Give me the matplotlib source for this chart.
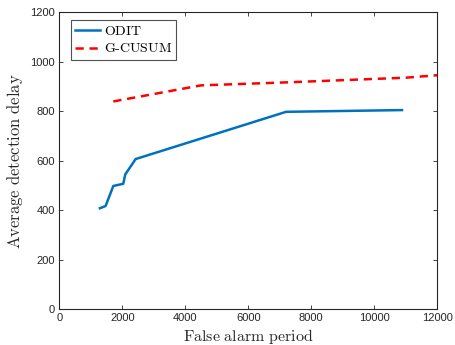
import matplotlib
matplotlib.use("Agg")
import matplotlib.pyplot as plt

odit_x = [1290, 1470, 1715, 2030, 2095, 2425, 7200, 10880]
odit_y = [408, 417, 498, 507, 545, 607, 798, 805]
gcusum_x = [1715, 4500, 7200, 11000, 12000]
gcusum_y = [840, 905, 917, 936, 946]
xticks = [0, 2000, 4000, 6000, 8000, 10000, 12000]
yticks = [0, 200, 400, 600, 800, 1000, 1200]

plt.rcParams['mathtext.fontset'] = 'cm'
plt.rcParams['font.family'] = ['Liberation Sans', 'DejaVu Sans']

fig = plt.figure(figsize=(4.56, 3.45), dpi=100)
ax = fig.add_axes([0.130, 0.104, 0.829, 0.860])
ax.plot(odit_x, odit_y, color='#0072BD', lw=1.8, label=r'$\mathrm{ODIT}$')
ax.plot(gcusum_x, gcusum_y, color='#FF0000', lw=1.8, ls=(0, (3.3, 2.3)), label=r'$\mathrm{G\text{-}CUSUM}$')
ax.set_xlim(0, 12000)
ax.set_ylim(0, 1200)
ax.set_xticks(xticks)
ax.set_yticks(yticks)
ax.tick_params(direction='in', length=3, width=0.6, colors='#262626', labelsize=8, top=True, right=True, pad=3)
for s in ax.spines.values():
    s.set_linewidth(0.8)
    s.set_color('#262626')
ax.set_xlabel(r'$\mathrm{False\ alarm\ period}$', fontsize=11.5, color='#262626', labelpad=3)
ax.set_ylabel(r'$\mathrm{Average\ detection\ delay}$', fontsize=12, color='#262626', labelpad=4)
leg = ax.legend(loc='upper left', fontsize=10, frameon=True, fancybox=False, edgecolor='#262626',
                borderpad=0.3, handlelength=1.8, handletextpad=0.3, labelspacing=0.25,
                bbox_to_anchor=(0.03, 0.975), borderaxespad=0)
leg.get_frame().set_linewidth(0.8)
fig.savefig('out.png', dpi=100)
